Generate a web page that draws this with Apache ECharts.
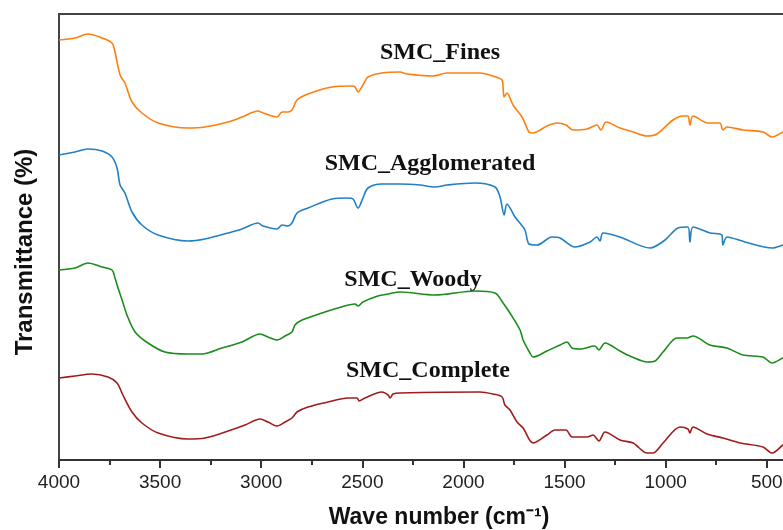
<!DOCTYPE html>
<html>
<head>
<meta charset="utf-8">
<title>FTIR SMC</title>
<script src="https://cdn.jsdelivr.net/npm/echarts@6/dist/echarts.min.js"></script>
<style>
  html, body { margin: 0; padding: 0; background: #fff; }
  #chart1 { width: 783px; height: 530px; }
</style>
</head>
<body>
<div id="chart1"></div>
<script>
// wave numbers (cm-1) and offset transmittance
var finesWn = [4000, 3921, 3857, 3787, 3738, 3723, 3698, 3674, 3639, 3590, 3510, 3362, 3278, 3164, 3095, 3016, 2991, 2922, 2897, 2868, 2848, 2823, 2769, 2650, 2551, 2536, 2521, 2497, 2472, 2403, 2314, 2279, 2151, 2081, 1982, 1918, 1854, 1809, 1804, 1799, 1785, 1755, 1710, 1676, 1656, 1587, 1537, 1493, 1458, 1389, 1340, 1320, 1295, 1226, 1161, 1092, 1043, 964, 914, 890, 880, 865, 791, 732, 717, 697, 618, 519, 474, 420, 400];
var finesT = [420, 422, 426, 422, 417, 408, 385, 377, 358, 347, 337, 332, 333, 338, 343, 349, 347, 343, 348, 348, 350, 360, 366, 373, 374, 373, 368, 375, 383, 387, 388, 386, 384, 387, 387, 387, 384, 380, 373, 363, 367, 355, 343, 328, 327, 334, 337, 335, 330, 331, 335, 330, 338, 332, 328, 324, 326, 340, 344, 344, 335, 344, 337, 337, 330, 333, 330, 328, 323, 328, 330];

var agglWn = [4000, 3921, 3857, 3787, 3738, 3713, 3698, 3674, 3639, 3590, 3510, 3362, 3278, 3164, 3095, 3016, 2991, 2922, 2897, 2868, 2848, 2823, 2769, 2650, 2571, 2546, 2521, 2497, 2472, 2403, 2314, 2215, 2141, 2081, 1943, 1844, 1819, 1799, 1785, 1745, 1696, 1676, 1636, 1562, 1522, 1449, 1374, 1340, 1325, 1310, 1226, 1077, 1003, 939, 890, 880, 865, 781, 722, 717, 697, 608, 474, 420, 400];
var agglT = [305, 308, 311, 309, 303, 292, 275, 267, 248, 235, 225, 219, 221, 227, 231, 237, 234, 231, 235, 234, 237, 247, 252, 261, 262, 261, 252, 262, 272, 276, 276, 275, 273, 275, 277, 273, 263, 245, 256, 243, 230, 216, 215, 223, 222, 213, 218, 223, 219, 227, 223, 212, 220, 232, 233, 218, 233, 227, 225, 215, 223, 218, 212, 215, 216];

var woodyWn = [4000, 3921, 3857, 3787, 3738, 3723, 3708, 3688, 3664, 3624, 3560, 3476, 3362, 3293, 3194, 3095, 3006, 2967, 2922, 2882, 2848, 2833, 2798, 2699, 2620, 2536, 2521, 2497, 2423, 2373, 2314, 2141, 1943, 1844, 1804, 1770, 1720, 1705, 1671, 1656, 1587, 1522, 1488, 1463, 1424, 1350, 1330, 1300, 1226, 1166, 1092, 1053, 1013, 944, 895, 865, 781, 697, 618, 519, 474, 420, 400];
var woodyT = [190, 192, 197, 193, 190, 182, 172, 160, 145, 128, 117, 108, 106, 106, 112, 118, 126, 123, 120, 124, 128, 135, 140, 147, 152, 156, 154, 158, 164, 166, 168, 165, 169, 167, 157, 147, 130, 120, 107, 103, 109, 115, 118, 112, 111, 114, 110, 117, 109, 103, 98, 99, 108, 122, 122, 124, 115, 112, 105, 103, 97, 102, 103];

var completeWn = [4000, 3921, 3838, 3758, 3713, 3684, 3639, 3590, 3510, 3362, 3278, 3164, 3080, 3006, 2967, 2922, 2882, 2848, 2823, 2769, 2670, 2571, 2526, 2516, 2487, 2403, 2373, 2363, 2348, 2314, 1918, 1854, 1809, 1795, 1770, 1735, 1705, 1656, 1587, 1547, 1493, 1463, 1389, 1359, 1330, 1300, 1226, 1161, 1092, 1063, 1013, 929, 890, 880, 865, 796, 717, 632, 519, 474, 420, 400];
var completeT = [82, 84, 86, 83, 77, 65, 48, 37, 27, 21, 22, 29, 35, 41, 38, 34, 38, 42, 48, 53, 58, 62, 62, 59, 62, 68, 65, 62, 66, 67, 68, 66, 63, 55, 50, 38, 32, 17, 25, 30, 30, 23, 23, 25, 19, 28, 20, 17, 7, 7, 17, 33, 31, 27, 33, 26, 22, 17, 13, 7, 15, 17];

var majorTicks = [4000, 3500, 3000, 2500, 2000, 1500, 1000, 500];
var minorTicks = [3750, 3250, 2750, 2250, 1750, 1250, 750];

var names = ['SMC_Fines', 'SMC_Agglomerated', 'SMC_Woody', 'SMC_Complete'];
var colors = ['#ff7f0e', '#1f80c6', '#1a8c1a', '#a01c1c'];

function pairs(wn, t) {
    var out = [];
    for (var i = 0; i < wn.length; i++) out.push([wn[i], t[i]]);
    return out;
}

var chart = echarts.init(document.getElementById('chart1'));
var serif = '"Liberation Serif", "Times New Roman", serif';
var sans = '"Liberation Sans", Arial, sans-serif';

function lineSeries(i, wn, t) {
    return {
        name: names[i],
        type: 'line',
        data: pairs(wn, t),
        showSymbol: false,
        smooth: 0.3,
        lineStyle: { color: colors[i], width: 1.6 },
        animation: false
    };
}

option = {
    backgroundColor: '#fff',
    grid: {
        left: 59, top: 14, right: -4, bottom: 70,
        outerBoundsMode: 'none',
        containLabel: false,
        show: true, borderColor: '#444', borderWidth: 2
    },
    xAxis: [
        {
            type: 'value', inverse: true, min: 400, max: 4000,
            axisLine: { show: true, lineStyle: { color: '#333', width: 2 } },
            axisTick: { show: true, inside: false, length: 8, customValues: majorTicks, lineStyle: { color: '#333', width: 2 } },
            axisLabel: {
                customValues: majorTicks, fontSize: 19, color: '#222', fontFamily: sans, margin: 13,
                formatter: function (v) { return String(v); }
            },
            splitLine: { show: false }
        },
        {
            type: 'value', inverse: true, min: 400, max: 4000, position: 'bottom',
            axisLine: { show: false },
            axisTick: { show: true, inside: false, length: 5, customValues: minorTicks, lineStyle: { color: '#333', width: 2 } },
            axisLabel: { show: false },
            splitLine: { show: false }
        }
    ],
    yAxis: {
        type: 'value', min: 0, max: 446,
        axisLine: { show: false }, axisTick: { show: false },
        axisLabel: { show: false }, splitLine: { show: false }
    },
    series: [
        lineSeries(0, finesWn, finesT),
        lineSeries(1, agglWn, agglT),
        lineSeries(2, woodyWn, woodyT),
        lineSeries(3, completeWn, completeT)
    ],
    graphic: [
        { type: 'text', x: 440, y: 53, style: { text: names[0], font: 'bold 24px ' + serif, fill: '#111', align: 'center', verticalAlign: 'middle' } },
        { type: 'text', x: 430, y: 164, style: { text: names[1], font: 'bold 24px ' + serif, fill: '#111', align: 'center', verticalAlign: 'middle' } },
        { type: 'text', x: 413, y: 280, style: { text: names[2], font: 'bold 24px ' + serif, fill: '#111', align: 'center', verticalAlign: 'middle' } },
        { type: 'text', x: 428, y: 371, style: { text: names[3], font: 'bold 24px ' + serif, fill: '#111', align: 'center', verticalAlign: 'middle' } },
        { type: 'text', x: 439, y: 518, style: { text: 'Wave number (cm\u207B\u00B9)', font: 'bold 23px ' + sans, fill: '#111', align: 'center', verticalAlign: 'middle' } },
        { type: 'text', x: 25, y: 252, rotation: Math.PI / 2, style: { text: 'Transmittance (%)', font: 'bold 24px ' + sans, fill: '#111', align: 'center', verticalAlign: 'middle' } }
    ]
};
chart.setOption(option, true);
</script>
</body>
</html>
